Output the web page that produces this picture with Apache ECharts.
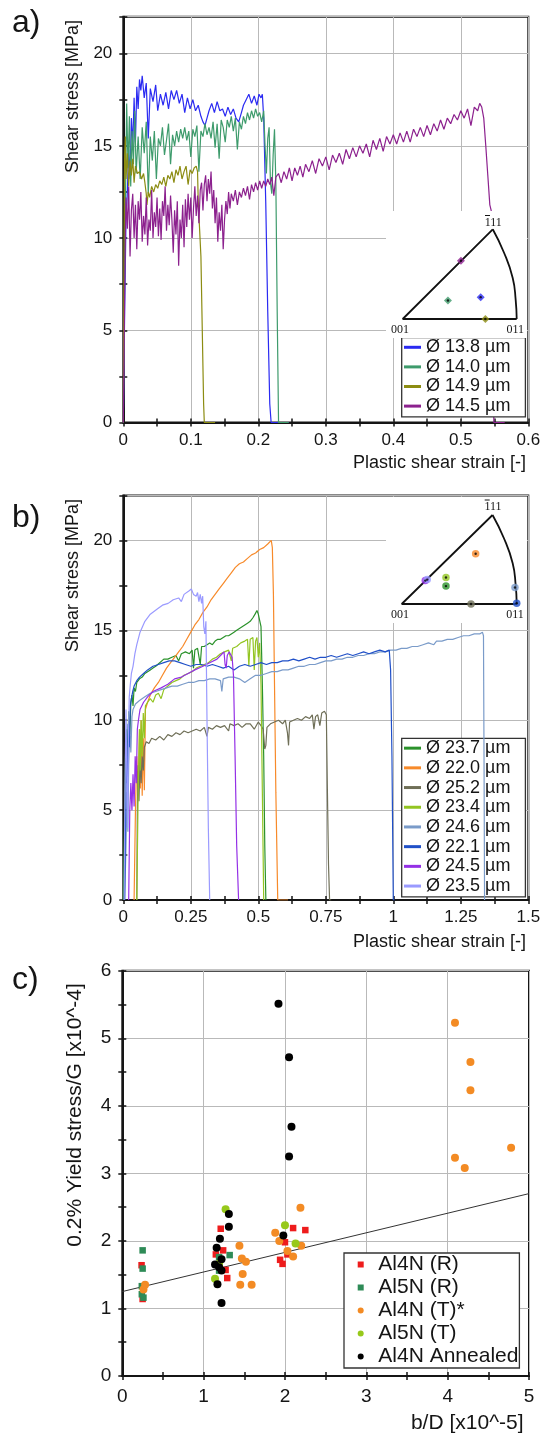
<!DOCTYPE html>
<html><head><meta charset="utf-8">
<script src="https://cdn.jsdelivr.net/npm/echarts@6/dist/echarts.min.js"></script>
<style>html,body{margin:0;padding:0;background:#fff}#c{width:549px;height:1436px}</style>
</head><body><div id="c"></div>
<script>
// ---------- Panel a data ----------
const legendA = ['Ø 13.8 µm', 'Ø 14.0 µm', 'Ø 14.9 µm', 'Ø 14.5 µm'];
const a_d138 = [[0,0],[0.002,6],[0.004,11],[0.006,12.5],[0.008,14.8],[0.010,13.2],[0.012,16.5],[0.014,15.0],[0.016,17.6],[0.018,15.2],[0.020,18.2],[0.022,17.0],[0.024,18.6],[0.026,18.0],[0.028,18.8],[0.031,17.6],[0.034,18.4],[0.037,15.4],[0.040,18.1],[0.044,17.4],[0.048,18.3],[0.051,16.9],[0.055,17.8],[0.059,17.2],[0.063,17.9],[0.067,17.0],[0.071,18.0],[0.075,17.5],[0.079,18.0],[0.083,17.3],[0.087,17.8],[0.091,16.8],[0.095,17.6],[0.099,17.0],[0.103,17.5],[0.107,16.9],[0.111,17.2],[0.115,16.6],[0.118,16.3],[0.121,16.1],[0.124,16.5],[0.127,16.9],[0.131,17.3],[0.135,16.8],[0.139,17.4],[0.143,16.9],[0.147,17.0],[0.151,16.6],[0.155,17.1],[0.159,16.7],[0.163,17.0],[0.167,16.5],[0.171,16.3],[0.175,16.8],[0.178,17.2],[0.182,17.5],[0.186,17.8],[0.190,17.3],[0.194,17.7],[0.198,17.2],[0.201,17.8],[0.204,17.6],[0.206,17.8],[0.208,16.5],[0.211,12],[0.214,6],[0.217,1],[0.219,0],[0.245,0]];
const a_d140 = [[0,0],[0.002,8],[0.004,14.5],[0.005,17.3],[0.007,13.8],[0.009,16.6],[0.011,12.8],[0.013,15.8],[0.015,14.0],[0.017,16.9],[0.019,13.5],[0.022,15.5],[0.025,13.2],[0.028,16.0],[0.031,14.6],[0.034,16.3],[0.037,12.4],[0.040,15.5],[0.043,14.2],[0.046,15.8],[0.049,13.2],[0.052,15.4],[0.055,15.0],[0.058,16.0],[0.061,14.5],[0.064,15.3],[0.067,16.2],[0.070,14.0],[0.073,15.6],[0.076,15.0],[0.079,15.8],[0.082,15.2],[0.085,15.9],[0.088,15.4],[0.091,16.0],[0.094,15.3],[0.097,15.8],[0.100,14.4],[0.103,15.9],[0.106,15.5],[0.109,16.1],[0.112,13.6],[0.115,15.8],[0.118,15.5],[0.121,16.2],[0.124,15.6],[0.127,16.0],[0.130,15.4],[0.133,16.3],[0.136,14.9],[0.139,16.2],[0.142,14.3],[0.145,16.4],[0.148,16.0],[0.151,15.2],[0.154,16.4],[0.157,16.0],[0.160,16.6],[0.163,15.8],[0.166,16.5],[0.169,14.8],[0.172,16.3],[0.175,15.9],[0.178,16.6],[0.181,16.2],[0.184,16.8],[0.187,16.4],[0.190,16.9],[0.193,16.5],[0.196,17.0],[0.199,16.6],[0.202,16.8],[0.205,16.3],[0.208,16.9],[0.210,15.0],[0.212,13.5],[0.214,15.4],[0.216,16.0],[0.218,13.0],[0.220,12.4],[0.222,14.5],[0.224,15.9],[0.226,13],[0.228,6],[0.230,0],[0.245,0]];
const a_d149 = [[0,0],[0.001,9],[0.002,14.5],[0.003,15.5],[0.004,13.2],[0.006,14.6],[0.008,12.8],[0.010,14.2],[0.012,13.4],[0.014,14.3],[0.016,13.0],[0.018,13.9],[0.021,13.5],[0.024,13.6],[0.027,13.2],[0.030,13.5],[0.032,13.0],[0.034,12.4],[0.035,11.8],[0.037,12.5],[0.039,12.2],[0.042,12.8],[0.045,12.5],[0.048,12.9],[0.051,12.7],[0.054,13.1],[0.057,12.9],[0.060,13.3],[0.063,12.8],[0.066,13.4],[0.069,13.2],[0.072,13.6],[0.075,13.0],[0.078,13.7],[0.081,13.4],[0.084,13.9],[0.087,13.2],[0.090,13.6],[0.093,13.9],[0.096,12.9],[0.099,13.7],[0.102,13.5],[0.105,13.8],[0.108,13.9],[0.110,13.6],[0.111,12],[0.113,10.5],[0.115,9],[0.117,5],[0.119,1],[0.120,0],[0.136,0]];
const a_d145 = [[0,0],[0.001,3],[0.002,7],[0.003,10],[0.004,12.2],[0.006,10.5],[0.008,12.8],[0.010,9.0],[0.012,11.5],[0.014,12.4],[0.016,10.0],[0.018,11.8],[0.020,9.4],[0.022,12.0],[0.024,11.0],[0.026,12.5],[0.028,9.8],[0.030,11.2],[0.032,10.2],[0.034,12.2],[0.036,9.6],[0.038,11.0],[0.040,10.4],[0.042,12.6],[0.044,10.0],[0.046,11.4],[0.048,10.6],[0.050,12.2],[0.052,10.1],[0.054,11.6],[0.056,9.9],[0.058,12.0],[0.060,11.2],[0.062,12.8],[0.064,10.4],[0.066,11.8],[0.068,10.7],[0.070,12.3],[0.072,11.0],[0.074,9.2],[0.076,11.5],[0.078,10.2],[0.080,12.0],[0.082,8.5],[0.084,11.0],[0.086,10.0],[0.088,11.8],[0.090,9.5],[0.092,12.1],[0.094,10.6],[0.096,12.4],[0.098,11.0],[0.100,12.2],[0.102,10.0],[0.104,11.6],[0.106,12.8],[0.108,11.2],[0.110,12.3],[0.112,10.8],[0.114,12.6],[0.116,13.0],[0.118,11.5],[0.120,12.9],[0.122,13.4],[0.124,12.0],[0.126,13.2],[0.128,12.4],[0.130,13.6],[0.132,11.6],[0.134,12.6],[0.136,10.8],[0.138,12.2],[0.140,9.8],[0.142,11.4],[0.144,10.4],[0.146,11.8],[0.148,9.4],[0.150,11.0],[0.152,12.0],[0.154,11.3],[0.156,12.5],[0.158,11.6],[0.160,12.4],[0.163,12.0],[0.166,12.6],[0.169,11.8],[0.172,12.5],[0.175,12.2],[0.178,12.7],[0.181,12.3],[0.184,12.8],[0.187,12.1],[0.190,12.9],[0.193,12.5],[0.196,13.0],[0.199,12.6],[0.202,13.1],[0.205,12.7],[0.208,13.1],[0.211,12.8],[0.214,13.2],[0.217,12.9],[0.220,13.3],[0.223,12.3],[0.226,13.3],[0.230,13.5],[0.234,13.0],[0.238,13.6],[0.242,13.2],[0.246,13.8],[0.250,13.1],[0.254,13.8],[0.258,13.4],[0.262,13.9],[0.266,13.3],[0.270,14.0],[0.275,13.6],[0.280,14.2],[0.285,13.5],[0.290,14.3],[0.295,13.9],[0.300,14.4],[0.305,13.7],[0.310,14.5],[0.315,14.1],[0.320,14.6],[0.325,14.0],[0.330,14.8],[0.335,14.3],[0.340,14.9],[0.345,14.4],[0.350,15.0],[0.355,14.6],[0.360,15.1],[0.365,14.4],[0.370,15.3],[0.375,14.8],[0.380,15.4],[0.385,14.7],[0.390,15.5],[0.395,15.1],[0.400,15.6],[0.405,15.1],[0.410,15.7],[0.415,15.2],[0.420,15.8],[0.425,15.2],[0.430,15.9],[0.435,15.5],[0.440,16.0],[0.445,15.5],[0.450,16.1],[0.455,15.6],[0.460,16.2],[0.465,15.8],[0.470,16.4],[0.475,15.9],[0.480,16.5],[0.485,16.2],[0.490,16.7],[0.495,16.4],[0.500,16.9],[0.505,16.5],[0.510,17.0],[0.515,16.1],[0.520,17.1],[0.525,16.9],[0.528,17.3],[0.531,17.1],[0.534,16.5],[0.537,15.0],[0.540,13.4],[0.543,11.8],[0.545,11.5],[0.547,6],[0.549,0],[0.565,0]];

// ---------- Panel b data ----------
const legendB = ['Ø 23.7 µm', 'Ø 22.0 µm', 'Ø 25.2 µm', 'Ø 23.4 µm', 'Ø 24.6 µm', 'Ø 22.1 µm', 'Ø 24.5 µm', 'Ø 23.5 µm'];
const b_d237 = [[0.000,0],[0.004,4],[0.008,8],[0.012,9.5],[0.016,7.5],[0.020,10.5],[0.024,9.2],[0.028,11.0],[0.032,11.4],[0.036,10.8],[0.040,11.8],[0.045,11.6],[0.050,12.1],[0.060,12.3],[0.070,12.4],[0.080,12.6],[0.090,12.7],[0.100,12.8],[0.110,12.9],[0.120,13.0],[0.135,13.2],[0.150,13.4],[0.165,13.4],[0.180,13.5],[0.195,13.6],[0.205,13.3],[0.215,13.7],[0.230,13.8],[0.245,13.7],[0.255,13.9],[0.260,12.9],[0.265,13.9],[0.275,14.0],[0.285,13.1],[0.290,14.1],[0.300,14.1],[0.310,14.2],[0.320,14.3],[0.330,14.2],[0.340,14.4],[0.350,14.5],[0.360,14.5],[0.370,14.6],[0.380,14.7],[0.390,14.7],[0.400,14.8],[0.410,14.9],[0.420,15.0],[0.430,15.1],[0.440,15.2],[0.450,15.3],[0.460,15.4],[0.470,15.5],[0.480,15.7],[0.488,15.9],[0.495,16.1],[0.500,15.9],[0.505,16.0],[0.510,15.2],[0.515,12.0],[0.520,8.0],[0.524,3.0],[0.528,0]];
const b_d220 = [[0.040,0],[0.045,5.0],[0.050,8.0],[0.055,6.0],[0.060,9.5],[0.063,6.2],[0.066,10.0],[0.070,5.8],[0.074,9.0],[0.078,6.1],[0.082,10.6],[0.090,11.0],[0.100,11.4],[0.115,11.8],[0.130,12.1],[0.145,12.5],[0.160,12.9],[0.175,13.2],[0.190,13.5],[0.205,13.8],[0.220,14.1],[0.235,14.5],[0.250,14.9],[0.265,15.3],[0.280,15.6],[0.295,16.0],[0.310,16.3],[0.325,16.7],[0.340,17.0],[0.355,17.3],[0.370,17.6],[0.385,17.9],[0.400,18.2],[0.415,18.5],[0.430,18.7],[0.445,18.8],[0.460,19.0],[0.475,19.2],[0.490,19.3],[0.505,19.5],[0.520,19.6],[0.535,19.8],[0.548,20.0],[0.552,19.6],[0.556,17.0],[0.560,12.0],[0.565,6.0],[0.572,0],[0.610,0]];
const b_d252 = [[0.050,0],[0.052,5],[0.055,7.5],[0.058,5.5],[0.062,7.8],[0.066,6.5],[0.070,8.0],[0.074,7.2],[0.078,8.5],[0.085,8.8],[0.095,8.7],[0.105,9.0],[0.120,8.9],[0.135,9.1],[0.150,8.9],[0.165,9.2],[0.180,9.1],[0.195,9.3],[0.210,9.2],[0.225,9.4],[0.240,9.3],[0.255,9.4],[0.270,9.5],[0.285,9.4],[0.300,9.6],[0.310,9.1],[0.315,9.6],[0.330,9.5],[0.345,9.7],[0.360,9.6],[0.375,9.7],[0.390,9.4],[0.395,9.8],[0.410,9.7],[0.425,9.8],[0.440,9.6],[0.455,9.8],[0.470,9.8],[0.485,9.5],[0.500,9.9],[0.510,9.7],[0.518,9.5],[0.524,8.4],[0.528,8.6],[0.532,9.6],[0.545,9.8],[0.560,9.9],[0.575,10.0],[0.590,9.8],[0.600,10.0],[0.608,9.3],[0.612,8.6],[0.616,9.9],[0.630,10.0],[0.645,10.1],[0.660,10.0],[0.675,10.2],[0.690,10.1],[0.700,10.3],[0.706,9.5],[0.712,10.2],[0.720,10.3],[0.728,9.7],[0.735,10.4],[0.745,10.5],[0.752,10.3],[0.756,6],[0.760,2],[0.764,0],[0.770,0]];
const b_d234 = [[0.050,0],[0.055,6.0],[0.060,9.5],[0.063,7.2],[0.066,10.0],[0.070,8.0],[0.074,10.4],[0.078,9.0],[0.082,10.8],[0.090,11.0],[0.100,11.2],[0.110,11.0],[0.120,11.4],[0.130,11.5],[0.140,11.2],[0.150,11.7],[0.165,11.9],[0.180,12.1],[0.195,12.2],[0.210,12.3],[0.225,12.5],[0.240,12.6],[0.255,12.7],[0.270,12.9],[0.285,13.0],[0.300,13.1],[0.315,13.2],[0.330,13.4],[0.345,13.5],[0.360,13.7],[0.375,13.8],[0.390,13.9],[0.400,13.3],[0.405,14.0],[0.420,14.1],[0.435,14.3],[0.450,14.4],[0.460,14.5],[0.465,13.0],[0.470,14.5],[0.480,14.6],[0.485,12.8],[0.490,14.4],[0.495,14.6],[0.500,13.5],[0.505,14.3],[0.510,12.0],[0.515,6.0],[0.520,0]];
const b_d246 = [[0.005,0],[0.010,3],[0.014,6],[0.017,3.8],[0.020,7.5],[0.024,9.5],[0.028,8.2],[0.032,10.2],[0.036,10.6],[0.045,10.9],[0.060,11.1],[0.080,11.3],[0.100,11.5],[0.120,11.6],[0.140,11.7],[0.160,11.8],[0.180,11.9],[0.200,11.9],[0.220,12.0],[0.240,12.1],[0.260,12.1],[0.280,12.2],[0.300,12.2],[0.320,12.3],[0.340,12.3],[0.360,12.2],[0.365,11.6],[0.370,12.3],[0.390,12.4],[0.410,12.4],[0.430,12.3],[0.450,12.1],[0.470,12.3],[0.490,12.5],[0.510,12.5],[0.530,12.6],[0.550,12.7],[0.570,12.7],[0.590,12.8],[0.610,12.8],[0.630,12.9],[0.650,13.0],[0.670,13.0],[0.690,13.1],[0.710,13.1],[0.730,13.2],[0.750,13.3],[0.770,13.3],[0.790,13.4],[0.810,13.4],[0.830,13.5],[0.850,13.5],[0.870,13.6],[0.890,13.6],[0.910,13.7],[0.930,13.7],[0.950,13.8],[0.970,13.8],[0.990,13.9],[1.010,13.9],[1.030,14.0],[1.050,14.0],[1.070,14.1],[1.090,14.1],[1.110,14.2],[1.130,14.3],[1.150,14.2],[1.160,14.4],[1.180,14.4],[1.200,14.5],[1.220,14.5],[1.240,14.6],[1.260,14.7],[1.280,14.7],[1.300,14.8],[1.320,14.8],[1.330,14.9],[1.334,14.7],[1.336,8],[1.338,0]];
const b_d221 = [[0.005,0],[0.008,4],[0.012,8],[0.015,6.5],[0.018,9.8],[0.022,8.5],[0.026,10.8],[0.030,11.2],[0.035,11.6],[0.040,11.9],[0.050,12.2],[0.060,12.4],[0.075,12.6],[0.090,12.8],[0.110,13.0],[0.130,13.1],[0.150,13.2],[0.170,13.3],[0.190,13.3],[0.210,13.2],[0.230,13.1],[0.250,13.0],[0.270,13.1],[0.290,13.1],[0.310,13.0],[0.330,13.1],[0.350,13.0],[0.370,12.9],[0.390,13.0],[0.410,12.8],[0.430,13.0],[0.450,13.1],[0.470,13.0],[0.490,13.1],[0.510,13.2],[0.530,13.1],[0.550,13.2],[0.570,13.2],[0.590,13.3],[0.610,13.3],[0.630,13.4],[0.650,13.3],[0.670,13.4],[0.690,13.5],[0.710,13.4],[0.730,13.5],[0.750,13.5],[0.770,13.6],[0.790,13.5],[0.810,13.6],[0.830,13.7],[0.850,13.6],[0.870,13.7],[0.890,13.8],[0.910,13.7],[0.930,13.8],[0.950,13.9],[0.970,13.8],[0.985,13.9],[0.990,12.8],[0.995,8],[1.000,0],[1.005,0]];
const b_d245 = [[0.020,0],[0.024,5.0],[0.028,6.5],[0.032,5.0],[0.036,7.0],[0.040,5.2],[0.044,8.0],[0.048,6.5],[0.052,9.5],[0.056,10.0],[0.062,10.6],[0.075,11.0],[0.090,11.3],[0.110,11.6],[0.140,11.8],[0.165,12.0],[0.190,12.3],[0.215,12.4],[0.240,12.6],[0.265,12.8],[0.295,13.0],[0.320,13.2],[0.347,13.4],[0.360,13.6],[0.373,13.8],[0.377,13.1],[0.381,12.9],[0.385,13.6],[0.392,13.8],[0.398,13.9],[0.403,13.5],[0.408,12.5],[0.414,8.0],[0.420,3.0],[0.427,0]];
const b_d235 = [[0.003,0],[0.006,6.0],[0.010,10.6],[0.013,7.0],[0.016,4.0],[0.019,9.0],[0.022,11.3],[0.026,12.0],[0.030,12.6],[0.036,13.0],[0.043,13.7],[0.050,14.2],[0.062,14.9],[0.080,15.5],[0.100,15.9],[0.127,16.2],[0.145,16.4],[0.166,16.5],[0.185,16.7],[0.205,16.8],[0.215,16.6],[0.225,17.0],[0.244,17.2],[0.252,17.3],[0.260,17.0],[0.270,16.9],[0.275,17.1],[0.280,16.6],[0.285,17.0],[0.290,16.5],[0.294,16.9],[0.298,15.2],[0.302,14.8],[0.306,15.5],[0.310,10.0],[0.315,4.0],[0.320,0]];

// ---------- Inset (inverse pole figure) data, units of triangle base ----------
const ipfEdges = [[1,0],[0,0],[0.79,0.78]];
const ipfArc = [[0.79,0.78],[0.889,0.576],[0.965,0.357],[0.991,0.167],[1,0]];
const ipfA_pts = [[0.684,0.190],[0.397,0.161],[0.725,0.0],[0.511,0.506]];
const ipfB_pts = [[0.385,0.157],[0.643,0.441],[0.603,0.0],[0.385,0.232],[0.985,0.145],[1.0,0.006],[0.205,0.205],[0.222,0.214]];
const ipfLabels = ['001', '011', '111'];

// ---------- Panel c data ----------
const legendC = ['Al4N (R)', 'Al5N (R)', 'Al4N (T)*', 'Al5N (T)', 'Al4N Annealed'];
const c_al4nR = [[0.237,1.64],[0.25,1.14],[1.15,1.80],[1.21,2.18],[1.24,1.86],[1.27,1.57],[1.29,1.45],[1.94,1.72],[1.97,1.66],[2.0,1.98],[2.03,1.80],[2.10,2.19],[2.25,2.16]];
const c_al5nR = [[0.25,1.86],[0.25,1.59],[0.24,1.33],[0.24,1.21],[0.26,1.16],[1.32,1.79],[1.19,1.76],[1.19,1.56]];
const c_al4nT = [[0.26,1.28],[0.28,1.35],[1.44,1.93],[1.47,1.74],[1.52,1.69],[1.48,1.51],[1.45,1.35],[1.59,1.35],[1.88,2.12],[1.93,2.00],[2.03,1.85],[2.10,1.77],[2.19,2.49],[2.20,1.93],[4.09,5.23],[4.28,4.65],[4.28,4.23],[4.09,3.23],[4.21,3.08],[4.78,3.38]];
const c_al5nT = [[1.27,2.47],[1.14,1.44],[1.19,1.66],[2.0,2.23],[2.13,1.96]];
const c_annealed = [[1.92,5.51],[2.05,4.72],[2.08,3.69],[2.05,3.25],[1.98,2.08],[1.31,2.40],[1.31,2.21],[1.20,2.03],[1.16,1.90],[1.22,1.73],[1.14,1.65],[1.19,1.61],[1.22,1.56],[1.17,1.36],[1.22,1.08]];
const c_fit = [[0,1.25],[5,2.7]];

// ---------- styling ----------
const FONT = '"Liberation Sans", Arial, Helvetica, sans-serif';
const SERIF = '"Liberation Serif", "Times New Roman", serif';
const GRIDC = '#b9b9b9';
const INK = '#151515';
const colorsA = ['#2a2af2', '#3e9b6c', '#8c8c12', '#8c218e'];
const colorsB = ['#2b922b', '#f78a2a', '#6f6f57', '#93c522', '#7a9bc9', '#2050c8', '#9430e6', '#9a9aff'];
const colorsC = ['#ee1c1c', '#2e8b57', '#f38b24', '#97c91b', '#000000'];
const symbolsC = ['rect', 'rect', 'circle', 'circle', 'circle'];
const sizesC = [6.5, 6.5, 8, 8, 8];

function mainAxis(dim, gi, min, max, interval, fs, margin, fmt) {
  return {
    type: 'value', gridIndex: gi, min: min, max: max, interval: interval,
    position: dim === 'x' ? 'bottom' : 'left',
    axisLine: { show: true, onZero: false, lineStyle: { color: INK, width: 2 } },
    axisTick: { show: true, inside: false, length: 4, lineStyle: { color: INK, width: 1.5 } },
    minorTick: { show: true, splitNumber: 2, length: 4, lineStyle: { color: INK, width: 1.5 } },
    splitLine: { show: true, lineStyle: { color: GRIDC, width: 1 } },
    minorSplitLine: { show: false },
    axisLabel: { show: true, color: INK, fontSize: fs, fontFamily: FONT, margin: margin, formatter: fmt },
    z: 0
  };
}
function innerAxis(dim, gi, min, max, interval) {
  return {
    type: 'value', gridIndex: gi, min: min, max: max, interval: interval,
    position: dim === 'x' ? 'bottom' : 'left',
    axisLine: { show: false, onZero: false },
    axisTick: { show: true, inside: true, length: 4, lineStyle: { color: INK, width: 1.5 } },
    minorTick: { show: true, splitNumber: 2, length: 4, lineStyle: { color: INK, width: 1.5 } },
    splitLine: { show: false }, minorSplitLine: { show: false },
    axisLabel: { show: false }
  };
}
function hiddenAxis(gi, max) {
  return { type: 'value', gridIndex: gi, min: 0, max: max, show: false,
    axisLine: { show: false }, splitLine: { show: false }, axisTick: { show: false }, axisLabel: { show: false } };
}
const fmt5 = v => (Math.abs(v % 5) < 1e-9 ? String(v) : '');

function lineSeries(name, data, color, xi, yi) {
  return { type: 'line', name: name, data: data, xAxisIndex: xi, yAxisIndex: yi,
    showSymbol: false, symbol: 'none', smooth: false, animation: false, clip: true,
    lineStyle: { color: color, width: 1.2 }, itemStyle: { color: color }, z: 2, silent: true };
}

const series = [];
const aData = [a_d138, a_d140, a_d149, a_d145];
aData.forEach((d, i) => series.push(lineSeries(legendA[i], d, colorsA[i], 0, 0)));
const bData = [b_d237, b_d220, b_d252, b_d234, b_d246, b_d221, b_d245, b_d235];
bData.forEach((d, i) => series.push(lineSeries(legendB[i], d, colorsB[i], 2, 2)));

// fit line in c
series.push({ type: 'line', data: c_fit, xAxisIndex: 4, yAxisIndex: 4, showSymbol: false, symbol: 'none',
  lineStyle: { color: '#333', width: 1 }, z: 2, silent: true, animation: false });
const cData = [c_al4nR, c_al5nR, c_al4nT, c_al5nT, c_annealed];
cData.forEach((d, i) => series.push({ type: 'scatter', name: legendC[i], data: d, xAxisIndex: 4, yAxisIndex: 4,
  symbol: symbolsC[i], symbolSize: sizesC[i], itemStyle: { color: colorsC[i], opacity: 1 }, z: 3, silent: true, animation: false }));

// insets
function insetSeries(xi, pts, cols, sym, sz) {
  series.push({ type: 'line', data: ipfEdges, xAxisIndex: xi, yAxisIndex: xi, showSymbol: false, symbol: 'none',
    lineStyle: { color: '#111', width: 1.8 }, z: 60, silent: true, animation: false, clip: false });
  series.push({ type: 'line', data: ipfArc, xAxisIndex: xi, yAxisIndex: xi, showSymbol: false, symbol: 'none', smooth: 0.5,
    lineStyle: { color: '#111', width: 1.8 }, z: 60, silent: true, animation: false, clip: false });
  series.push({ type: 'scatter', data: pts.map((p, i) => ({ value: p, itemStyle: { color: cols[i] } })),
    xAxisIndex: xi, yAxisIndex: xi, symbol: sym, symbolSize: sz, z: 61, silent: true, animation: false, clip: false });
  series.push({ type: 'scatter', data: pts, xAxisIndex: xi, yAxisIndex: xi, symbol: 'circle', symbolSize: 2.4,
    itemStyle: { color: '#000' }, z: 62, silent: true, animation: false, clip: false });
}
insetSeries(6, ipfA_pts, colorsA, 'diamond', 8);
insetSeries(7, ipfB_pts, colorsB, 'circle', 7.5);

function txt(x, y, text, size, opts) {
  opts = opts || {};
  return { type: 'text', x: x, y: y, rotation: opts.rot || 0, z: 70, silent: true,
    style: { text: text, fill: INK, font: size + 'px ' + (opts.family || FONT),
      align: opts.align || 'left', verticalAlign: 'middle' } };
}
// overbar on the first digit of "111" (the bar-1 of the pole label)
function bar(x, y) {
  return { type: 'line', z: 70, silent: true, shape: { x1: x, y1: y, x2: x + 5, y2: y }, style: { stroke: INK, lineWidth: 1 } };
}

const option = {
  animation: false,
  backgroundColor: '#ffffff',
  grid: [
    { left: 123.3, top: 16.7, width: 405, height: 405.8, show: true, borderColor: INK, borderWidth: 2, backgroundColor: 'transparent', containLabel: false, outerBoundsMode: 'none' },
    { left: 123.3, top: 495.5, width: 405, height: 404.5, show: true, borderColor: INK, borderWidth: 2, backgroundColor: 'transparent', containLabel: false, outerBoundsMode: 'none' },
    { left: 122.3, top: 970.7, width: 406.7, height: 405.3, show: true, borderColor: INK, borderWidth: 2, backgroundColor: 'transparent', containLabel: false, outerBoundsMode: 'none' },
    { left: 402.7, top: 229.3, width: 114, height: 89.7, show: false, containLabel: false, outerBoundsMode: 'none' },
    { left: 401.7, top: 515, width: 115, height: 89, show: false, containLabel: false, outerBoundsMode: 'none' }
  ],
  xAxis: [
    mainAxis('x', 0, 0, 0.6, 0.1, 17, 9),
    innerAxis('x', 0, 0, 0.6, 0.1),
    mainAxis('x', 1, 0, 1.5, 0.25, 17, 9),
    innerAxis('x', 1, 0, 1.5, 0.25),
    mainAxis('x', 2, 0, 5, 1, 19, 11),
    innerAxis('x', 2, 0, 5, 1),
    hiddenAxis(3, 1),
    hiddenAxis(4, 1)
  ],
  yAxis: [
    mainAxis('y', 0, 0, 22, 5, 17, 11, fmt5),
    innerAxis('y', 0, 0, 22, 5),
    mainAxis('y', 1, 0, 22.5, 5, 17, 11, fmt5),
    innerAxis('y', 1, 0, 22.5, 5),
    mainAxis('y', 2, 0, 6, 1, 19, 11),
    innerAxis('y', 2, 0, 6, 1),
    hiddenAxis(3, 0.78),
    hiddenAxis(4, 0.78)
  ],
  legend: [
    { data: legendA, left: 401.7, top: 337.5, orient: 'vertical', icon: 'rect', itemWidth: 17, itemHeight: 3, itemGap: 0,
      padding: [0, 15, 1, 2.3], backgroundColor: '#fff', borderColor: '#333', borderWidth: 1.3, selectedMode: false, z: 4,
      textStyle: { color: INK, fontSize: 18, fontFamily: FONT, lineHeight: 19.6 } },
    { data: legendB, left: 401.7, top: 738.3, orient: 'vertical', icon: 'rect', itemWidth: 17, itemHeight: 3, itemGap: 0,
      padding: [0, 15, 1, 2.3], backgroundColor: '#fff', borderColor: '#333', borderWidth: 1.3, selectedMode: false, z: 1,
      textStyle: { color: INK, fontSize: 18, fontFamily: FONT, lineHeight: 19.7 } },
    { data: legendC, left: 344, top: 1253, orient: 'vertical', itemWidth: 6, itemHeight: 6, itemGap: 0,
      padding: [0, 1, 0, 13.7], backgroundColor: '#fff', borderColor: '#333', borderWidth: 1.3, selectedMode: false, z: 4,
      textStyle: { color: INK, fontSize: 21, fontFamily: FONT, lineHeight: 23, padding: [0, 0, 0, 9.6] } }
  ],
  graphic: [
    { type: 'rect', z: 50, silent: true, shape: { x: 386, y: 211, width: 141, height: 127 }, style: { fill: '#fff' } },
    { type: 'rect', z: 50, silent: true, shape: { x: 386, y: 497, width: 141, height: 126 }, style: { fill: '#fff' } },
    txt(12, 23, 'a)', 32),
    txt(12, 518, 'b)', 32),
    txt(12, 980, 'c)', 32),
    txt(73, 96.5, 'Shear stress [MPa]', 18, { rot: Math.PI / 2, align: 'center' }),
    txt(526, 463, 'Plastic shear strain [-]', 18, { align: 'right' }),
    txt(73, 575.5, 'Shear stress [MPa]', 18, { rot: Math.PI / 2, align: 'center' }),
    txt(526, 941.7, 'Plastic shear strain [-]', 18, { align: 'right' }),
    txt(75, 1115, '0.2% Yield stress/G [x10^-4]', 21, { rot: Math.PI / 2, align: 'center' }),
    txt(523.5, 1423, 'b/D [x10^-5]', 21, { align: 'right' }),
    txt(400, 329.5, ipfLabels[0], 12, { align: 'center', family: SERIF }),
    txt(515.3, 329.5, ipfLabels[1], 12, { align: 'center', family: SERIF }),
    txt(493.3, 222.5, ipfLabels[2], 12, { align: 'center', family: SERIF }),
    bar(485, 215.5),
    txt(400, 615, ipfLabels[0], 12, { align: 'center', family: SERIF }),
    txt(515, 615, ipfLabels[1], 12, { align: 'center', family: SERIF }),
    txt(493, 507, ipfLabels[2], 12, { align: 'center', family: SERIF }),
    bar(484.7, 500)
  ],
  series: series
};

const chart = echarts.init(document.getElementById('c'), null, { renderer: 'canvas', width: 549, height: 1436 });
chart.setOption(option);
</script>
</body></html>
